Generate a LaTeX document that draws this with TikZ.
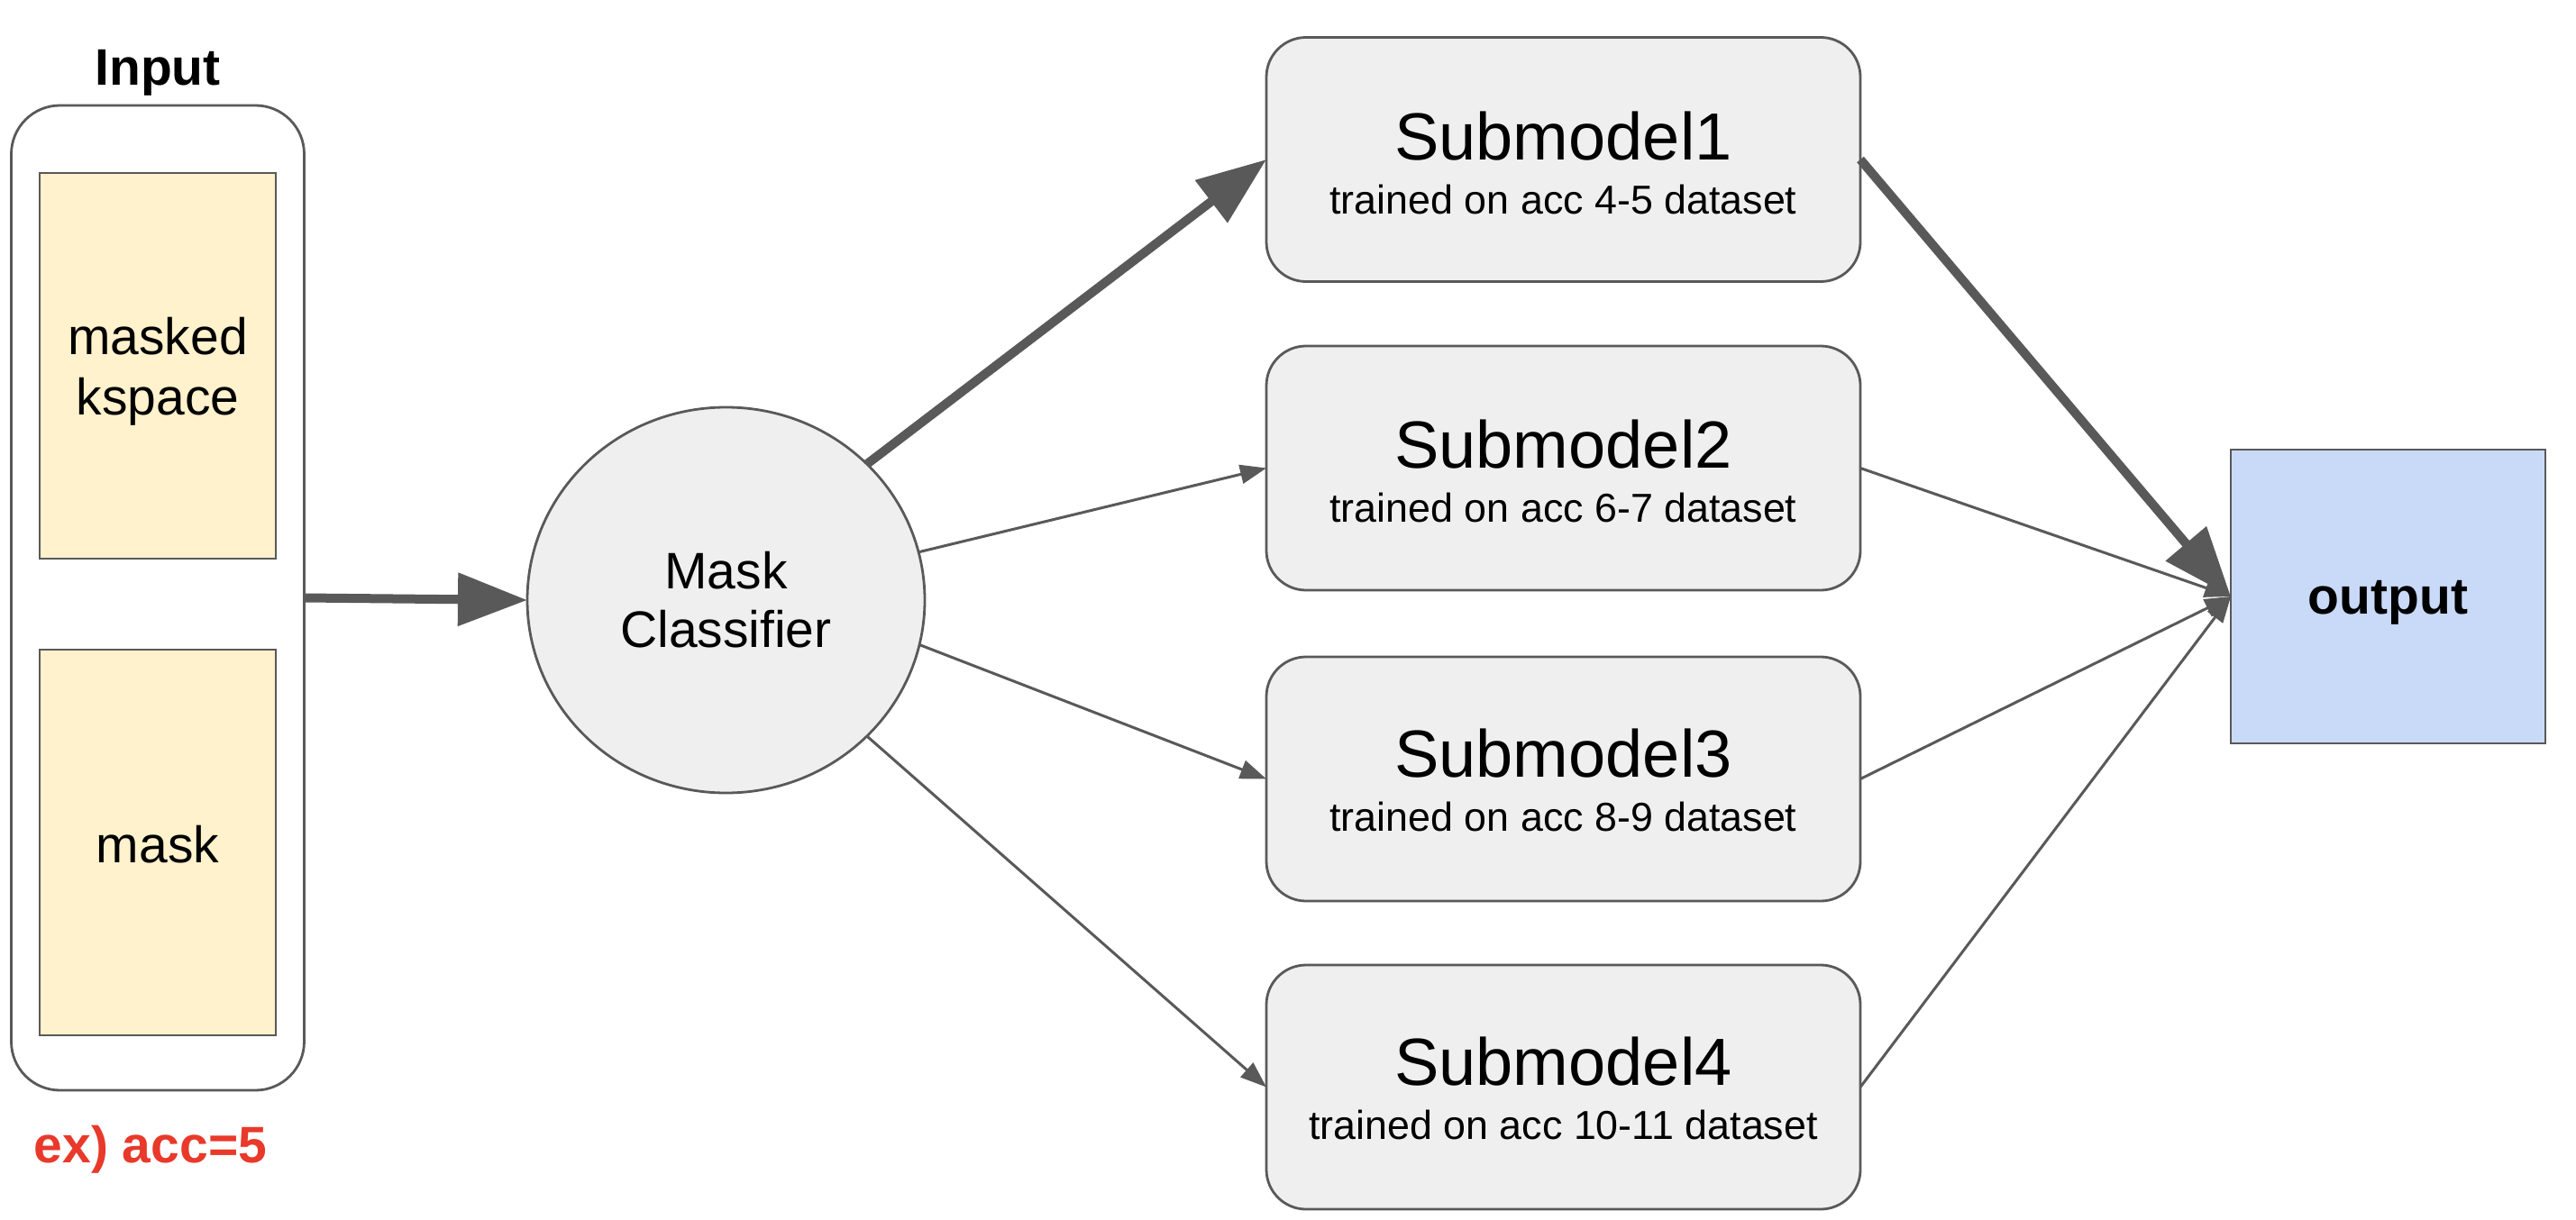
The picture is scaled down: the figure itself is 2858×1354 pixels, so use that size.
\documentclass[tikz,border=0pt]{standalone}
\usepackage{fontspec}
\setmainfont{Liberation Sans}
\usetikzlibrary{arrows.meta,shapes.geometric}
\definecolor{lc}{HTML}{595959}
\definecolor{boxgray}{HTML}{EFEFEF}
\definecolor{ylw}{HTML}{FFF2CC}
\definecolor{blu}{HTML}{C9DAF8}
\definecolor{redtxt}{HTML}{E8392A}
\begin{document}
\begin{tikzpicture}[x=0.5pt,y=-0.5pt,
  every node/.style={inner sep=0pt, outer sep=0pt},
  bx/.style={draw=lc, line width=1.4pt},
  inbox/.style={bx, fill=white, rounded corners=27pt, minimum width=162.5pt, minimum height=546.5pt},
  ybox/.style={bx, fill=ylw, minimum width=131pt, minimum height=214pt},
  clsshape/.style={bx, fill=boxgray, ellipse, minimum width=220.5pt, minimum height=214pt},
  subbox/.style={bx, fill=boxgray, rounded corners=22pt, minimum width=329.5pt, minimum height=135.5pt},
  outbox/.style={bx, fill=blu, minimum width=174.5pt, minimum height=163pt},
  tmid/.style={font=\fontsize{28.5pt}{33pt}\selectfont, anchor=base},
  tmidb/.style={font=\fontsize{28.5pt}{33pt}\selectfont\bfseries, anchor=base},
  tbig/.style={font=\fontsize{37pt}{44pt}\selectfont, anchor=base},
  tsmall/.style={font=\fontsize{22.4pt}{27pt}\selectfont, anchor=base},
  bigarr/.style={draw=lc, line width=5pt, -{Triangle[length=38.5pt,width=28.5pt]}},
  smallarr/.style={draw=lc, line width=1.5pt, -{Triangle[length=14.5pt,width=10.5pt]}}
]
\useasboundingbox (0,0) rectangle (2858,1354);
\fill[white] (0,0) rectangle (2858,1354);

% input column
\node[tmidb] (inlbl) at (175,95) {Input};
\node[inbox] (inp) at (175,663.5) {};
\node[ybox] (ksp) at (175,406) {};
\node[tmid] (ksp1) at (175,393) {masked};
\node[tmid] (ksp2) at (175,460) {kspace};
\node[ybox] (msk) at (175,935) {};
\node[tmid] (msk1) at (175,957) {mask};
\node[tmidb, text=redtxt] (ex) at (167,1290) {ex) acc=5};

% classifier
\node[clsshape] (cls) at (805.5,666) {};
\node[tmid] (cls1) at (805.5,653) {Mask};
\node[tmid] (cls2) at (805.5,718) {Classifier};

% submodels
\node[subbox] (s1) at (1734.5,177) {};
\node[tbig] (s1a) at (1734.5,177) {Submodel1};
\node[tsmall] (s1b) at (1734.5,237) {trained on acc 4-5 dataset};

\node[subbox] (s2) at (1734.5,519.5) {};
\node[tbig] (s2a) at (1734.5,519.5) {Submodel2};
\node[tsmall] (s2b) at (1734.5,579.5) {trained on acc 6-7 dataset};

\node[subbox] (s3) at (1734.5,864.5) {};
\node[tbig] (s3a) at (1734.5,862.5) {Submodel3};
\node[tsmall] (s3b) at (1734.5,922.5) {trained on acc 8-9 dataset};

\node[subbox] (s4) at (1734.5,1206.5) {};
\node[tbig] (s4a) at (1734.5,1204.5) {Submodel4};
\node[tsmall] (s4b) at (1734.5,1264.5) {trained on acc 10-11 dataset};

% output
\node[outbox] (out) at (2649.5,662) {};
\node[tmidb] (outt) at (2649.5,681) {output};

% connectors
\draw[bigarr] (inp.east) -- (cls.west);
\draw[bigarr] (cls.44.5) -- (s1.west);
\draw[smallarr] (cls.14) -- (s2.west);
\draw[smallarr] (cls.-13) -- (s3.west);
\draw[smallarr] (cls.-44) -- (s4.west);
\draw[smallarr] (s2.east) -- (out.west);
\draw[smallarr] (s3.east) -- (out.west);
\draw[smallarr] (s4.east) -- (out.west);
\draw[bigarr] (s1.east) -- (out.west);
\end{tikzpicture}
\end{document}
